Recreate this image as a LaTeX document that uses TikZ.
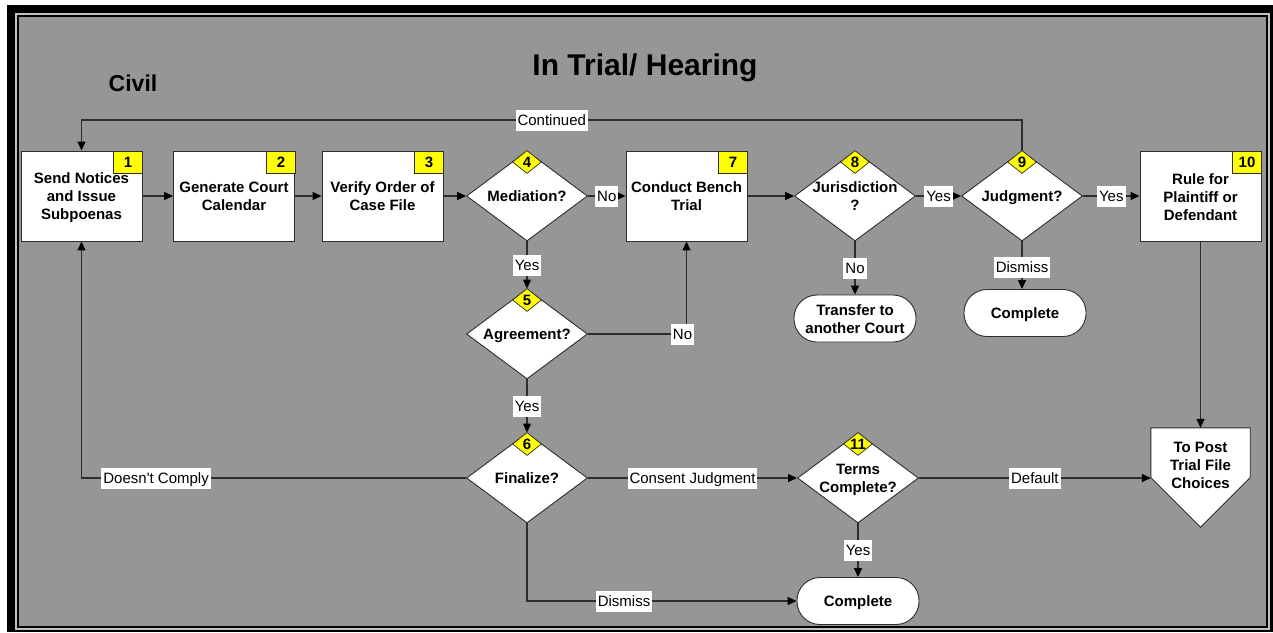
\documentclass[tikz,border=0pt]{standalone}
\usepackage{fontspec}
\setmainfont{Liberation Sans}[Ligatures=TeXOff]
\usetikzlibrary{shapes.geometric,arrows.meta}
\definecolor{bg}{RGB}{150,150,150}
\definecolor{frm}{RGB}{192,192,192}
\definecolor{ln}{RGB}{45,45,45}
\definecolor{yel}{RGB}{255,255,0}
\newcommand{\zw}[1]{\makebox[0pt]{\raisebox{-5.5pt}[0pt][0pt]{\begin{tabular}{@{}c@{}}#1\end{tabular}}}}
\begin{document}
\begin{tikzpicture}[x=1pt,y=-1pt,
  bfont/.style={font=\bfseries\fontsize{15}{18}\selectfont},
  proc/.style={bfont,draw=ln,line width=0.9pt,fill=white,minimum width=121pt,minimum height=90pt,inner sep=0pt},
  dec/.style={bfont,diamond,aspect=1.344,draw=ln,line width=0.9pt,fill=white,minimum width=121pt,minimum height=90pt,inner sep=0pt},
  term/.style={bfont,draw=ln,line width=0.9pt,fill=white,rounded corners=23pt,minimum width=122pt,minimum height=47pt,inner sep=0pt},
  badge/.style={bfont,draw=ln,line width=0.7pt,fill=yel,minimum width=29pt,minimum height=22pt,inner sep=0pt},
  dbadge/.style={bfont,diamond,aspect=1.26,draw=ln,line width=0.7pt,fill=yel,minimum width=29pt,minimum height=23pt,inner sep=0pt},
  conn/.style={draw=ln,line width=1.3pt,-{Triangle[length=9pt,width=8pt,color=black]}},
  lab/.style={fill=white,inner xsep=2pt,inner ysep=3pt,text height=12.5pt,text depth=2.5pt,font=\fontsize{15}{18}\selectfont},
]
\useasboundingbox (0,0) rectangle (1273,632);
% frame
\fill[white] (0,0) rectangle (1273,632);
\fill[black] (7,5) rectangle (1273,632);
\draw[frm,line width=2pt] (16.2,14) rectangle (1268.5,628.5);
\filldraw[fill=bg,draw=black,line width=1.5pt] (18.2,16.2) rectangle (1266.7,626.7);

% titles
\node[font=\bfseries\fontsize{30}{36}\selectfont] (title) at (645,68) {In Trial/ Hearing};
\node[font=\bfseries\fontsize{23}{27}\selectfont] (civil) at (133,83) {Civil};

% process boxes
\node[proc] (b1) at (81.5,196) {\zw{Send Notices\\and Issue\\Subpoenas}};
\node[proc] (b2) at (234,196) {\zw{Generate Court\\Calendar}};
\node[proc] (b3) at (382.5,196) {\zw{Verify Order of\\Case File}};
\node[proc] (b7) at (686.5,196) {\zw{Conduct Bench\\Trial}};
\node[proc] (b10) at (1200.5,196.5) {\zw{Rule for\\Plaintiff or\\Defendant}};

% decisions
\node[dec] (d4) at (527,196) {\zw{Mediation?}};
\node[dec] (d5) at (527,334) {\zw{Agreement?}};
\node[dec] (d6) at (527,478) {\zw{Finalize?}};
\node[dec] (d8) at (855,196) {\zw{Jurisdiction\\?}};
\node[dec] (d9) at (1022,196) {\zw{Judgment?}};
\node[dec] (d11) at (858,478) {\zw{Terms\\Complete?}};

% terminals
\node[term] (tr) at (855,318.5) {\zw{Transfer to\\another Court}};
\node[term] (c9) at (1025,313) {\zw{Complete}};
\node[term] (cb) at (858,601) {\zw{Complete}};

% off-page connector
\node[minimum width=99pt,minimum height=99pt,inner sep=0pt] (op) at (1200.5,477.5) {};
\draw[draw=ln,line width=0.9pt,fill=white] (op.north west) -- (op.north east) -- (op.east) -- (op.south) -- (op.west) -- cycle;
\node[bfont,align=center,inner sep=0pt] (opt) at ([yshift=12.5pt]op.center) {To Post\\Trial File\\Choices};

% connectors
\coordinate (ctop) at (0,120);
\draw[conn] (b1) -- (b2);
\draw[conn] (b2) -- (b3);
\draw[conn] (b3) -- (d4);
\draw[conn] (d4) -- node[lab]{No} (b7);
\draw[conn] (d4) -- node[lab]{Yes} (d5);
\draw[conn] (d5) -- node[lab]{Yes} (d6);
\draw[conn] (d5.east) -| node[lab,pos=0.5,xshift=-4pt]{No} (b7.south);
\draw[conn] (d6.west) -| node[lab,pos=0.403]{Doesn't Comply} (b1.south);
\draw[conn] (d6) -- node[lab]{Consent Judgment} (d11);
\draw[conn] (d6.south) |- node[lab,pos=0.68]{Dismiss} (cb.west);
\draw[conn] (d11) -- node[lab]{Yes} (cb);
\draw[conn] (d11.east) -- node[lab]{Default} (d11.east -| op.west);
\draw[conn] (b7) -- (d8);
\draw[conn] (d8) -- node[lab]{Yes} (d9);
\draw[conn] (d8.south) -- node[lab]{No} (d8.south |- tr.north);
\draw[conn] (d9.south) -- node[lab,pos=0.55]{Dismiss} (d9.south |- c9.north);
\draw[conn] (d9.east) -- node[lab]{Yes} (d9.east -| b10.west);
\draw[conn] (b10.south) -- (op.north);
\draw[conn] (d9.north) -- (d9.north |- ctop) -| node[lab,pos=0.25]{Continued} (b1.north);

% badges
\node[badge] (n1) at (128,162) {1};
\node[badge] (n2) at (281,162) {2};
\node[badge] (n3) at (429,162) {3};
\node[badge] (n7) at (733,162) {7};
\node[badge] (n10) at (1247,162) {10};
\node[dbadge] (n4) at (527,162) {\zw{4}};
\node[dbadge] (n5) at (527,300) {\zw{5}};
\node[dbadge] (n6) at (527,444) {\zw{6}};
\node[dbadge] (n8) at (855,162) {\zw{8}};
\node[dbadge] (n9) at (1022,162) {\zw{9}};
\node[dbadge] (n11) at (858,444) {\zw{11}};
\end{tikzpicture}
\end{document}
